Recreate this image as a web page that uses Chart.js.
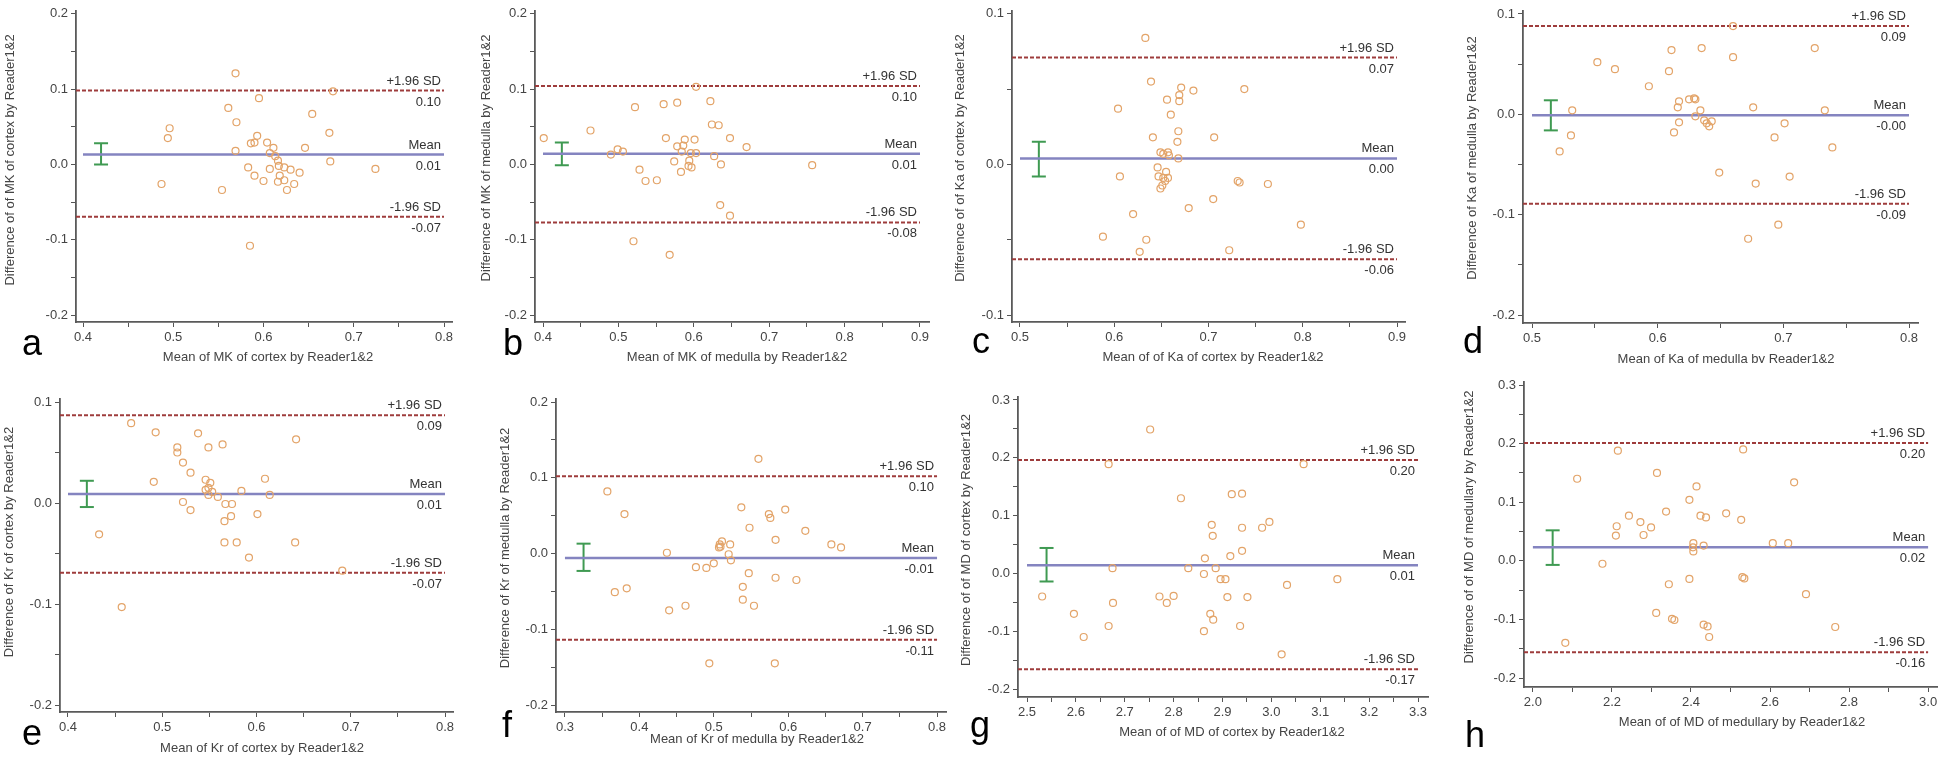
<!DOCTYPE html>
<html>
<head>
<meta charset="utf-8">
<script src="https://cdn.jsdelivr.net/npm/chart.js@4/dist/chart.umd.min.js"></script>
<style>
  body { margin: 0; background: #fff; }
  #wrap { position: relative; width: 1946px; height: 760px; overflow: hidden; background: #fff; }
  canvas { position: absolute; }
</style>
</head>
<body>
<div id="wrap"></div>
<script>
// ---- data ----

// a: MK of cortex
const mkCortexMean = [0.569,0.595,0.677,0.561,0.570,0.654,0.496,0.494,0.673,0.593,0.586,0.590,0.604,0.611,0.646,0.569,0.607,0.613,0.616,0.674,0.617,0.583,0.607,0.623,0.630,0.640,0.724,0.618,0.590,0.623,0.600,0.616,0.634,0.487,0.554,0.626,0.585];
const mkCortexDiff = [0.121,0.088,0.097,0.075,0.056,0.067,0.048,0.035,0.042,0.038,0.028,0.029,0.029,0.022,0.022,0.018,0.015,0.011,0.005,0.004,-0.002,-0.004,-0.006,-0.004,-0.007,-0.011,-0.006,-0.015,-0.015,-0.021,-0.022,-0.023,-0.026,-0.026,-0.034,-0.034,-0.108];
const mkCortexStats = [0.013, 0.098, -0.0695];   // mean, +1.96 SD, -1.96 SD
const mkCortexCI = [0.0, 0.028];

// b: MK of medulla
const mkMedullaMean = [0.603,0.560,0.578,0.522,0.622,0.624,0.633,0.463,0.401,0.563,0.648,0.588,0.601,0.578,0.586,0.670,0.499,0.506,0.584,0.490,0.596,0.603,0.627,0.574,0.594,0.636,0.757,0.593,0.597,0.528,0.583,0.536,0.551,0.635,0.648,0.520,0.568];
const mkMedullaDiff = [0.103,0.080,0.082,0.076,0.084,0.053,0.052,0.045,0.035,0.035,0.035,0.033,0.033,0.024,0.025,0.023,0.020,0.017,0.017,0.013,0.015,0.015,0.011,0.004,0.005,0.000,-0.001,-0.002,-0.004,-0.007,-0.010,-0.022,-0.021,-0.054,-0.068,-0.102,-0.120];
const mkMedullaStats = [0.014, 0.104, -0.077];
const mkMedullaCI = [-0.001, 0.029];

// c: Ka of cortex
const kaCortexMean = [0.633,0.639,0.671,0.684,0.738,0.669,0.656,0.669,0.604,0.660,0.668,0.641,0.706,0.667,0.649,0.652,0.657,0.658,0.668,0.646,0.606,0.655,0.647,0.652,0.657,0.654,0.651,0.649,0.731,0.733,0.763,0.705,0.679,0.620,0.798,0.588,0.634,0.627,0.722];
const kaCortexDiff = [0.084,0.055,0.051,0.049,0.050,0.046,0.043,0.042,0.037,0.033,0.022,0.018,0.018,0.015,0.008,0.007,0.008,0.006,0.004,-0.002,-0.008,-0.005,-0.008,-0.009,-0.009,-0.011,-0.014,-0.016,-0.011,-0.012,-0.013,-0.023,-0.029,-0.033,-0.040,-0.048,-0.050,-0.058,-0.057];
const kaCortexStats = [0.004, 0.071, -0.063];
const kaCortexCI = [-0.008, 0.015];

// d: Ka of medulla
const kaMedullaMean = [0.660,0.635,0.725,0.611,0.660,0.552,0.566,0.609,0.593,0.625,0.629,0.630,0.617,0.616,0.676,0.532,0.634,0.733,0.630,0.637,0.639,0.643,0.641,0.617,0.701,0.531,0.613,0.693,0.522,0.739,0.649,0.705,0.678,0.696,0.672];
const kaMedullaDiff = [0.088,0.066,0.066,0.064,0.057,0.052,0.045,0.043,0.028,0.015,0.016,0.015,0.013,0.007,0.007,0.004,0.004,0.004,-0.002,-0.006,-0.009,-0.007,-0.012,-0.008,-0.009,-0.021,-0.018,-0.023,-0.037,-0.033,-0.058,-0.062,-0.069,-0.110,-0.124];
const kaMedullaStats = [-0.001, 0.088, -0.089];
const kaMedullaCI = [-0.016, 0.014];

// e: Kr of cortex
const krCortexMean = [0.467,0.493,0.538,0.564,0.642,0.549,0.516,0.516,0.522,0.530,0.491,0.546,0.551,0.609,0.549,0.546,0.553,0.584,0.614,0.549,0.559,0.522,0.567,0.574,0.530,0.601,0.573,0.566,0.433,0.566,0.579,0.641,0.592,0.691,0.457];
const krCortexDiff = [0.079,0.070,0.069,0.058,0.063,0.055,0.055,0.050,0.040,0.030,0.021,0.023,0.020,0.024,0.015,0.013,0.011,0.012,0.008,0.008,0.006,0.001,-0.001,-0.001,-0.007,-0.011,-0.013,-0.018,-0.031,-0.039,-0.039,-0.039,-0.054,-0.067,-0.103];
const krCortexStats = [0.009, 0.087, -0.069];
const krCortexCI = [-0.004, 0.022];

// f: Kr of medulla
const krMedullaMean = [0.560,0.357,0.380,0.537,0.596,0.574,0.576,0.548,0.623,0.583,0.658,0.671,0.511,0.508,0.522,0.509,0.507,0.437,0.520,0.523,0.500,0.476,0.490,0.547,0.583,0.611,0.383,0.367,0.539,0.539,0.462,0.554,0.440,0.494,0.582];
const krMedullaDiff = [0.125,0.082,0.052,0.061,0.058,0.052,0.047,0.034,0.030,0.018,0.012,0.008,0.016,0.012,0.012,0.009,0.008,0.001,-0.001,-0.009,-0.013,-0.018,-0.019,-0.026,-0.032,-0.035,-0.046,-0.051,-0.044,-0.061,-0.069,-0.069,-0.075,-0.145,-0.145];
const krMedullaStats = [-0.006, 0.102, -0.114];
const krMedullaCI = [-0.023, 0.013];

// g: MD of cortex
const mdCortexMean = [2.752,2.667,3.066,2.815,2.919,2.940,2.878,2.940,2.981,2.996,2.880,2.940,2.916,2.864,2.675,2.830,2.886,2.862,2.896,2.906,3.135,3.032,2.531,2.771,2.800,2.786,2.676,2.910,2.951,2.596,2.875,2.881,2.667,2.936,2.616,2.862,3.021];
const mdCortexDiff = [0.249,0.189,0.189,0.130,0.137,0.138,0.084,0.079,0.079,0.089,0.065,0.039,0.030,0.026,0.009,0.009,0.009,-0.001,-0.010,-0.010,-0.010,-0.020,-0.040,-0.040,-0.039,-0.051,-0.051,-0.041,-0.041,-0.070,-0.070,-0.080,-0.091,-0.091,-0.110,-0.100,-0.140];
const mdCortexStats = [0.014, 0.196, -0.166];
const mdCortexCI = [-0.014, 0.044];

// h: MD of medullary
const mdMedullaMean = [2.215,2.532,2.314,2.112,2.661,2.414,2.396,2.337,2.489,2.243,2.424,2.438,2.527,2.272,2.212,2.299,2.210,2.280,2.406,2.607,2.646,2.405,2.432,2.406,2.176,2.530,2.535,2.396,2.344,2.691,2.312,2.352,2.358,2.432,2.442,2.765,2.446,2.082];
const mdMedullaDiff = [0.188,0.190,0.150,0.140,0.134,0.127,0.104,0.084,0.081,0.077,0.077,0.074,0.070,0.066,0.059,0.057,0.043,0.044,0.030,0.030,0.030,0.023,0.026,0.016,-0.005,-0.028,-0.030,-0.031,-0.040,-0.057,-0.089,-0.099,-0.101,-0.109,-0.112,-0.113,-0.130,-0.140];
const mdMedullaStats = [0.023, 0.201, -0.156];
const mdMedullaCI = [-0.007, 0.052];

// tick labels
const xTicksA = [0.4, 0.5, 0.6, 0.7, 0.8];
const xTicksB = [0.4, 0.5, 0.6, 0.7, 0.8, 0.9];
const xTicksC = [0.5, 0.6, 0.7, 0.8, 0.9];
const xTicksD = [0.5, 0.6, 0.7, 0.8];
const xTicksE = [0.4, 0.5, 0.6, 0.7, 0.8];
const xTicksF = [0.3, 0.4, 0.5, 0.6, 0.7, 0.8];
const xTicksG = [2.5, 2.6, 2.7, 2.8, 2.9, 3.0, 3.1, 3.2, 3.3];
const xTicksH = [2.0, 2.2, 2.4, 2.6, 2.8, 3.0];
const yTicks4 = [-0.2, -0.1, 0.0, 0.1, 0.2];
const yTicksKa = [-0.1, 0.0, 0.1];
const yTicks3 = [-0.2, -0.1, 0.0, 0.1];
const yTicksMD = [-0.2, -0.1, 0.0, 0.1, 0.2, 0.3];

const lineNames = ['Mean', '+1.96 SD', '-1.96 SD'];

// ---- panels: data + where each one sits on the page ----
const panels = [
  { letter: 'a', xs: mkCortexMean, ys: mkCortexDiff, st: mkCortexStats, ci: mkCortexCI, xt: xTicksA, yt: yTicks4,
    xTitle: 'Mean of MK of cortex by Reader1&2', yTitle: 'Difference of of MK of cortex by Reader1&2',
    box: [0, 0, 485, 380], ax: 76, ay: 322, x0: 83, x1: 444, xEnd: 452, yTop: 12, yBot: 315, yEnd: 9,
    lp: [22, 355], xtp: [268, 357], ytp: [10, 160] },
  { letter: 'b', xs: mkMedullaMean, ys: mkMedullaDiff, st: mkMedullaStats, ci: mkMedullaCI, xt: xTicksB, yt: yTicks4,
    xTitle: 'Mean of MK of medulla by Reader1&2', yTitle: 'Difference of MK of medulla by Reader1&2',
    box: [478, 0, 492, 380], ax: 535, ay: 322, x0: 543, x1: 920, xEnd: 929, yTop: 12, yBot: 315, yEnd: 9,
    lp: [503, 355], xtp: [737, 357], ytp: [486, 158] },
  { letter: 'c', xs: kaCortexMean, ys: kaCortexDiff, st: kaCortexStats, ci: kaCortexCI, xt: xTicksC, yt: yTicksKa,
    xTitle: 'Mean of of Ka of cortex by Reader1&2', yTitle: 'Difference of of Ka of cortex by Reader1&2',
    box: [950, 0, 505, 380], ax: 1012, ay: 322, x0: 1020, x1: 1397, xEnd: 1405, yTop: 12, yBot: 315, yEnd: 9,
    lp: [972, 353], xtp: [1213, 357], ytp: [960, 158] },
  { letter: 'd', xs: kaMedullaMean, ys: kaMedullaDiff, st: kaMedullaStats, ci: kaMedullaCI, xt: xTicksD, yt: yTicks3,
    xTitle: 'Mean of Ka of medulla by Reader1&2', yTitle: 'Difference of Ka of medulla by Reader1&2',
    box: [1455, 0, 491, 363], ax: 1523, ay: 323, x0: 1532, x1: 1909, xEnd: 1918, yTop: 14, yBot: 315, yEnd: 11,
    lp: [1463, 353], xtp: [1726, 359], ytp: [1472, 158] },
  { letter: 'e', xs: krCortexMean, ys: krCortexDiff, st: krCortexStats, ci: krCortexCI, xt: xTicksE, yt: yTicks3,
    xTitle: 'Mean of Kr of cortex by Reader1&2', yTitle: 'Difference of Kr of cortex by Reader1&2',
    box: [0, 380, 490, 380], ax: 60, ay: 712, x0: 68, x1: 445, xEnd: 453, yTop: 402, yBot: 705, yEnd: 399,
    lp: [22, 745], xtp: [262, 748], ytp: [9, 542] },
  { letter: 'f', xs: krMedullaMean, ys: krMedullaDiff, st: krMedullaStats, ci: krMedullaCI, xt: xTicksF, yt: yTicks4,
    xTitle: 'Mean of Kr of medulla by Reader1&2', yTitle: 'Difference of Kr of medulla by Reader1&2',
    box: [490, 380, 465, 380], ax: 556, ay: 712, x0: 565, x1: 939, xEnd: 948, yTop: 402, yBot: 705, yEnd: 399,
    lp: [502, 737], xtp: [757, 739], ytp: [505, 548] },
  { letter: 'g', xs: mdCortexMean, ys: mdCortexDiff, st: mdCortexStats, ci: mdCortexCI, xt: xTicksG, yt: yTicksMD,
    xTitle: 'Mean of of MD of cortex by Reader1&2', yTitle: 'Difference of of MD of cortex by Reader1&2',
    box: [955, 380, 500, 380], ax: 1018, ay: 697, x0: 1027, x1: 1418, xEnd: 1428, yTop: 400, yBot: 689, yEnd: 397,
    lp: [970, 737], xtp: [1232, 732], ytp: [966, 540] },
  { letter: 'h', xs: mdMedullaMean, ys: mdMedullaDiff, st: mdMedullaStats, ci: mdMedullaCI, xt: xTicksH, yt: yTicksMD,
    xTitle: 'Mean of of MD of medullary by Reader1&2', yTitle: 'Difference of of MD of medullary by Reader1&2',
    box: [1455, 362, 491, 398], ax: 1524, ay: 687, x0: 1533, x1: 1933, xEnd: 1942, yTop: 385, yBot: 678, yEnd: 382,
    lp: [1465, 747], xtp: [1742, 722], ytp: [1469, 527] }
];

Chart.defaults.font.family = '"Liberation Sans", Arial, sans-serif';
Chart.defaults.font.size = 13;
Chart.defaults.color = '#444';

const wrap = document.getElementById('wrap');

// majors get labels, midpoints are unlabelled minor ticks
function withMinor(majors) {
  const out = [];
  majors.forEach((v, i) => {
    out.push({ value: v, minor: false });
    if (i < majors.length - 1) out.push({ value: (v + majors[i + 1]) / 2, minor: true });
  });
  return out;
}

function axisOpts(ticks, min, max, fitFn) {
  return {
    type: 'linear', min: min, max: max,
    afterBuildTicks: s => { s.ticks = withMinor(ticks); },
    afterFit: fitFn,
    ticks: {
      autoSkip: false, maxRotation: 0, padding: 3, color: '#444',
      callback: (v, i, arr) => arr[i].minor ? '' : v.toFixed(1)
    },
    grid: { drawOnChartArea: false, drawTicks: true, tickLength: 5, color: '#555', lineWidth: 1 },
    border: { display: true, color: '#5a5a5a', width: 1.8 }
  };
}

function makePanel(p) {
  const [cl, ct, cw, ch] = p.box;
  const cv = document.createElement('canvas');
  cv.width = cw; cv.height = ch;
  cv.style.left = cl + 'px'; cv.style.top = ct + 'px';
  wrap.appendChild(cv);

  const xF = p.xt[0], xL = p.xt[p.xt.length - 1];
  const yB = p.yt[0], yT = p.yt[p.yt.length - 1];
  const xPer = (xL - xF) / (p.x1 - p.x0);
  const yPer = (yT - yB) / (p.yBot - p.yTop);
  const xMin = xF - (p.x0 - p.ax) * xPer, xMax = xL + (p.xEnd - p.x1) * xPer;
  const yMin = yB - (p.ay - p.yBot) * yPer, yMax = yT + (p.yTop - p.yEnd) * yPer;
  const ciX = xF + 0.05 * (xL - xF);

  const pts = p.xs.map((x, i) => ({ x: x, y: p.ys[i] }));
  const hline = (v, from) => [{ x: from, y: v }, { x: xL, y: v }];

  const labels = {
    id: 'labels' + p.letter,
    afterDraw(chart) {
      const { ctx, scales: { x, y } } = chart;
      ctx.save();
      ctx.fillStyle = '#333';
      ctx.font = '13px "Liberation Sans", Arial, sans-serif';
      ctx.textAlign = 'right';
      const rx = x.getPixelForValue(xL) - 3;
      p.st.forEach((v, i) => {
        const py = y.getPixelForValue(v);
        ctx.textBaseline = 'bottom';
        ctx.fillText(lineNames[i], rx, py - 3);
        ctx.textBaseline = 'top';
        ctx.fillText(v.toFixed(2), rx, py + 5);
      });
      // axis titles
      ctx.fillStyle = '#444';
      ctx.textAlign = 'center';
      ctx.textBaseline = 'middle';
      ctx.fillText(p.xTitle, p.xtp[0] - cl, p.xtp[1] - ct);
      ctx.save();
      ctx.translate(p.ytp[0] - cl, p.ytp[1] - ct);
      ctx.rotate(-Math.PI / 2);
      ctx.fillText(p.yTitle, 0, 0);
      ctx.restore();
      // panel letter
      ctx.fillStyle = '#000';
      ctx.font = '36px "Liberation Sans", Arial, sans-serif';
      ctx.textAlign = 'left';
      ctx.textBaseline = 'alphabetic';
      ctx.fillText(p.letter, p.lp[0] - cl, p.lp[1] - ct);
      ctx.restore();
    }
  };

  new Chart(cv, {
    type: 'scatter',
    data: {
      datasets: [
        { data: pts, pointRadius: 3.5, pointBorderWidth: 1.2, pointBorderColor: '#e3a469',
          pointBackgroundColor: 'rgba(0,0,0,0)' },
        { type: 'line', data: hline(p.st[1], xMin), borderColor: '#9e3c3c', borderWidth: 2,
          borderDash: [4, 2], pointRadius: 0 },
        { type: 'line', data: hline(p.st[2], xMin), borderColor: '#9e3c3c', borderWidth: 2,
          borderDash: [4, 2], pointRadius: 0 },
        { type: 'line', data: hline(p.st[0], xF), borderColor: '#8484c0', borderWidth: 2.5, pointRadius: 0 },
        { type: 'line', data: [{ x: ciX, y: p.ci[0] }, { x: ciX, y: p.ci[1] }],
          borderColor: '#3f9a52', borderWidth: 2, pointStyle: 'line', pointRadius: 7,
          pointBorderWidth: 2, pointBorderColor: '#3f9a52' }
      ]
    },
    options: {
      responsive: false, animation: false, devicePixelRatio: 1,
      layout: { padding: { left: 0, top: p.yEnd - ct, right: cl + cw - p.xEnd, bottom: 0 } },
      plugins: { legend: { display: false }, tooltip: { enabled: false } },
      scales: {
        x: axisOpts(p.xt, xMin, xMax, s => { s.height = ct + ch - p.ay; }),
        y: axisOpts(p.yt, yMin, yMax, s => { s.width = p.ax - cl; })
      }
    },
    plugins: [labels]
  });
}

panels.forEach(makePanel);
</script>
</body>
</html>
